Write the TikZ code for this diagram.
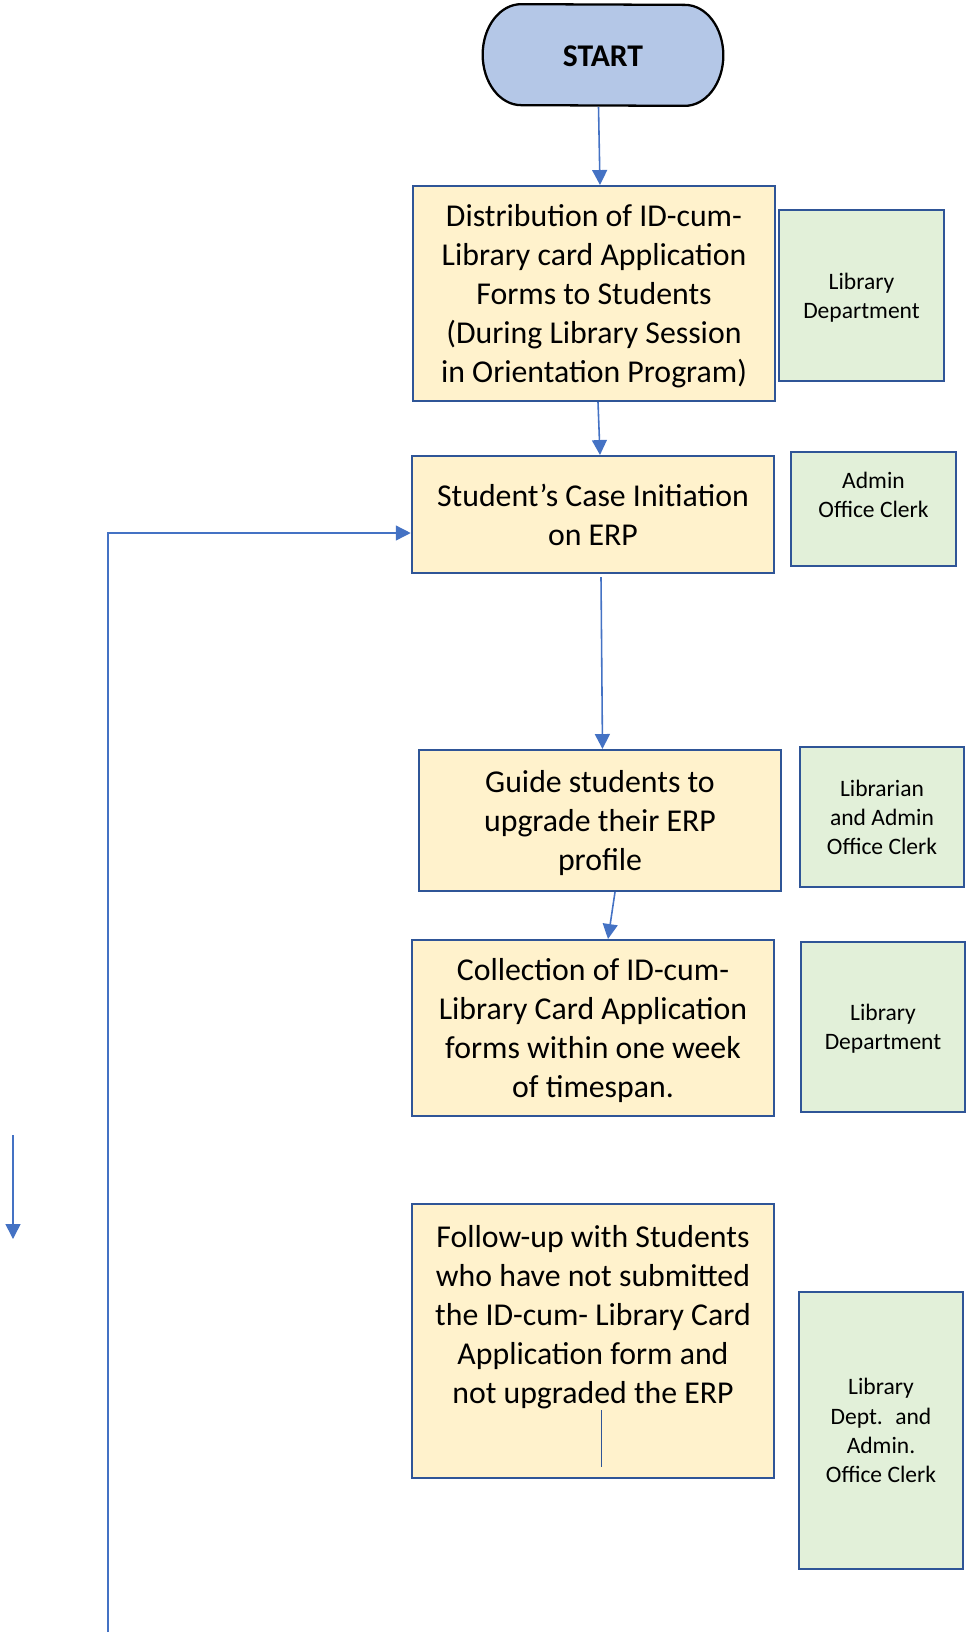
\documentclass[tikz,border=0pt]{standalone}
\usepackage{fontspec}
\setmainfont{Carlito}
\usetikzlibrary{arrows.meta, backgrounds}

\definecolor{boxedge}{HTML}{2F5597}
\definecolor{flowblue}{HTML}{4472C4}
\definecolor{taskfill}{HTML}{FFF2CC}
\definecolor{rolefill}{HTML}{E2F0D9}
\definecolor{startfill}{HTML}{B4C7E7}

\begin{document}
\begin{tikzpicture}[x=0.02cm, y=-0.02cm,
        taskbox/.style={draw=boxedge, line width=1.2pt, fill=taskfill, minimum width=7.25cm, inner sep=0pt, text depth=0pt, align=center, font=\fontsize{18.1}{22.2}\selectfont},
        tasktext/.style={inner sep=0pt, text depth=0pt, align=center, font=\fontsize{18.1}{22.2}\selectfont},
        rolebox/.style={draw=boxedge, line width=1.2pt, fill=rolefill, minimum width=3.29cm, inner sep=0pt, text depth=0pt, align=center, font=\fontsize{13.4}{16.6}\selectfont},
        roletext/.style={inner sep=0pt, text depth=0pt, align=center, font=\fontsize{13.4}{16.6}\selectfont},
        flow/.style={draw=flowblue, line width=0.9pt, -{Triangle[width=8.5pt, length=8.5pt]}}]
    \useasboundingbox (0, 0) rectangle (970, 1641);

    % Start terminal
    \node[minimum width=4.8cm, minimum height=2.02cm, font=\fontsize{18}{22}\selectfont\bfseries] (start) at (603, 56) {START};
    \begin{scope}[on background layer]
        \draw[fill=startfill, line width=1.3pt] ([xshift=0.77cm, yshift=0.02cm]start.north west) arc[start angle=90, end angle=270, x radius=0.77cm, y radius=1.01cm] -- ([xshift=-0.77cm, yshift=0.02cm]start.south east) arc[start angle=-90, end angle=90, x radius=0.77cm, y radius=1.01cm] -- cycle;
    \end{scope}

    % Task boxes
    \node[taskbox, minimum height=4.3cm] (distrib) at (594, 293.5) {Distribution of ID-cum-\\Library card Application\\Forms to Students\\(During Library Session\\in Orientation Program)};
    \node[taskbox, minimum height=2.34cm] (initiate) at (593, 514.5) {Student’s Case Initiation\\on ERP};
    \node[taskbox, minimum height=2.82cm] (guide) at (600, 820.5) {Guide students to\\upgrade their ERP\\profile};
    \node[taskbox, minimum height=3.52cm] (collect) at (593, 1028) {Collection of ID-cum-\\Library Card Application\\forms within one week\\of timespan.};
    \node[taskbox, minimum height=5.48cm] (followup) at (593, 1341) {};
    \node[tasktext] (followuptext) at (593, 1314) {Follow-up with Students\\who have not submitted\\the ID-cum- Library Card\\Application form and\\not upgraded the ERP};

    % Who does it
    \node[rolebox, minimum height=3.42cm] (libdept) at (861.5, 295.5) {Library\\Department};
    \node[rolebox, minimum height=2.28cm] (clerk) at (873.5, 509) {};
    \node[roletext] (clerktext) at (873.5, 495) {Admin\\Office Clerk};
    \node[rolebox, minimum height=2.8cm] (libclerk) at (882, 817) {Librarian\\and Admin\\Office Clerk};
    \node[rolebox, minimum height=3.4cm] (collectdept) at (883, 1027) {Library\\Department};
    \node[rolebox, minimum height=5.54cm] (followupstaff) at (881, 1430.5) {Library\\Dept.~ and\\Admin.\\Office Clerk};

    % Main flow
    \draw[flow] ([xshift=-0.09cm]start.south) -- ([xshift=0.12cm]distrib.north);
    \draw[flow] ([xshift=0.08cm]distrib.south) -- ([xshift=0.14cm]initiate.north);
    \draw[flow] ([xshift=0.16cm, yshift=-0.06cm]initiate.south) -- ([xshift=0.05cm]guide.north);
    \draw[flow] ([xshift=0.3cm]guide.south) -- ([xshift=0.3cm]collect.north);

    % Loop back to case initiation
    \coordinate (loopfoot) at (108, 1632);
    \draw[flow, line width=0.8pt] (loopfoot) |- ([yshift=-0.37cm]initiate.west);

    % Stub inside follow-up box
    \coordinate (stubtop) at (601, 1410);
    \coordinate (stubend) at (601, 1467);
    \draw[boxedge, line width=0.5pt] (stubtop) -- (stubend);

    % Loose arrow on the left
    \coordinate (loosetop) at (13, 1135);
    \coordinate (looseend) at (13, 1239);
    \draw[flow] (loosetop) -- (looseend);
\end{tikzpicture}
\end{document}
